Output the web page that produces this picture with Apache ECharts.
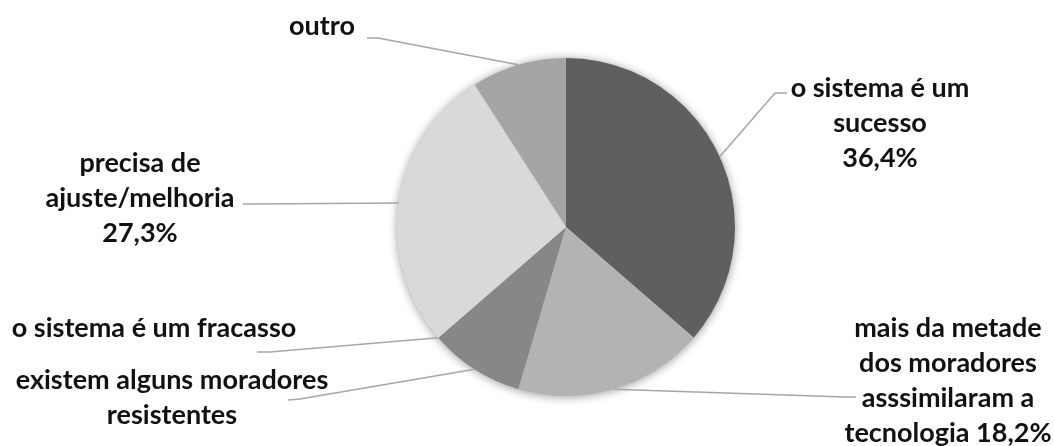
<!DOCTYPE html>
<html>
<head>
<meta charset="utf-8">
<script src="https://cdn.jsdelivr.net/npm/echarts@6/dist/echarts.min.js"></script>
<style>
  html, body { margin: 0; padding: 0; background: #fff; }
  #chart { width: 1054px; height: 446px; }
</style>
</head>
<body>
<div id="chart"></div>
<script>
// Opinião sobre o sistema — participação de cada resposta (%)
const categories = [
  'o sistema é um\nsucesso',
  'mais da metade\ndos moradores\nasssimilaram a\ntecnologia',
  'existem alguns moradores\nresistentes',
  'o sistema é um fracasso',
  'precisa de\najuste/melhoria',
  'outro'
];
const values = [36.4, 18.2, 9.1, 0, 27.3, 9.1];
// separator placed between the name and its percentage (null = percentage not shown)
const valueSeparators = ['\n', ' ', null, null, '\n', null];
const colors = ['#5f5f5f', '#b3b3b3', '#878787', '#7f7f7f', '#d9d9d9', '#a5a5a5'];

// label placement: text-block centre and the two outer points of each leader line
const labelAnchors = [
  { x: 880, y: 123, bend: [775, 93],  end: [787, 93] },
  { x: 948, y: 381, bend: [845, 397], end: [856, 397] },
  { x: 172, y: 398, bend: [300, 399], end: [288, 400] },
  { x: 154, y: 328, bend: [270, 352], end: [257, 352] },
  { x: 140, y: 198, bend: [252, 204], end: [243, 204] },
  { x: 322, y: 26,  bend: [378, 38],  end: [367, 38] }
];

const CENTER = [566, 227];
const RADIUS = 169;
const FONT = { fontFamily: 'Lato', fontWeight: 'bold', fontSize: 27, lineHeight: 35, color: '#111111' };

function formatPct(v) {
  return v.toFixed(1).replace('.', ',') + '%';
}

const total = values.reduce((a, b) => a + b, 0);

const chart = echarts.init(document.getElementById('chart'), null, { renderer: 'canvas' });

const option = {
  animation: false,
  backgroundColor: '#ffffff',
  series: [
    {
      // soft drop shadow under the whole disc
      type: 'pie',
      silent: true,
      center: CENTER,
      radius: RADIUS,
      label: { show: false },
      labelLine: { show: false },
      data: [{ value: 1, itemStyle: { color: '#d9d9d9', shadowBlur: 10, shadowColor: 'rgba(0,0,0,0.4)', shadowOffsetX: 0, shadowOffsetY: 1 } }],
      z: 1
    },
    {
      type: 'pie',
      center: CENTER,
      radius: RADIUS,
      startAngle: 90,
      clockwise: true,
      avoidLabelOverlap: false,
      z: 2,
      itemStyle: { borderWidth: 0 },
      emphasis: { disabled: true },
      data: categories.map((name, i) => ({
        name: name,
        value: values[i],
        itemStyle: { color: colors[i] }
      })),
      label: Object.assign({
        show: true,
        position: 'outside',
        formatter: function (p) {
          const sep = valueSeparators[p.dataIndex];
          return sep === null ? p.name : p.name + sep + formatPct(p.value);
        }
      }, FONT),
      labelLine: {
        show: true,
        length: 10,
        length2: 10,
        lineStyle: { color: '#a6a6a6', width: 1.5 }
      },
      labelLayout: function (params) {
        const a = labelAnchors[params.dataIndex];
        // start of the leader line: slice edge at the mid angle
        let start;
        if (params.labelLinePoints && params.labelLinePoints.length) {
          start = params.labelLinePoints[0];
        } else {
          let before = 0;
          for (let k = 0; k < params.dataIndex; k++) before += values[k];
          const mid = (before + values[params.dataIndex] / 2) / total * Math.PI * 2;
          start = [CENTER[0] + RADIUS * Math.sin(mid), CENTER[1] - RADIUS * Math.cos(mid)];
        }
        return {
          x: a.x,
          y: a.y,
          align: 'center',
          verticalAlign: 'middle',
          labelLinePoints: [start, a.bend, a.end]
        };
      }
    }
  ]
};

chart.setOption(option);
</script>
</body>
</html>
